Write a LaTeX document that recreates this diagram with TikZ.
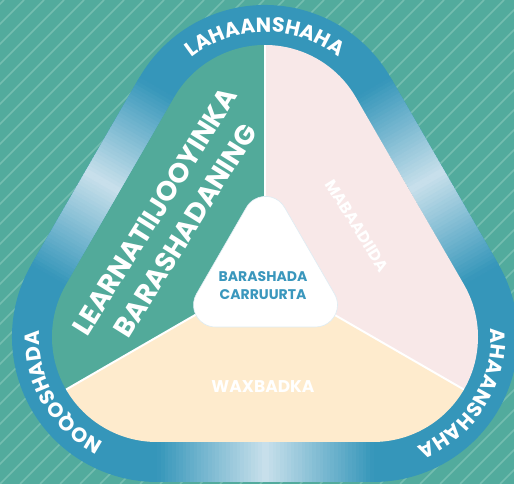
\documentclass[tikz,border=0pt]{standalone}
\usepackage{fontspec}
\setmainfont{Poppins}
\usepackage{tikz}
\usetikzlibrary{calc,decorations.text}
\definecolor{bgteal}{HTML}{52AB9D}
\definecolor{stripeteal}{HTML}{74BDB0}
\definecolor{ringdark}{HTML}{3596BA}
\definecolor{ringpale}{HTML}{C8E0EB}
\definecolor{sectorpink}{HTML}{F8E8E8}
\definecolor{sectorcream}{HTML}{FEEBCD}
\definecolor{sectorteal}{HTML}{52AA9A}
\definecolor{centreblue}{HTML}{3A97BD}
\def\rtri#1[#2](#3,#4,#5:#6){#1[#2] ($(#3)+(30:#6)$) arc (30:150:#6) -- ($(#4)+(150:#6)$) arc (150:270:#6) -- ($(#5)+(270:#6)$) arc (270:390:#6) -- cycle;}
\def\ringfont{\fontsize{20.5}{24}\selectfont\bfseries\color{white}}
\tikzset{
  ringtext/.style={decorate, decoration={text along path, text align=center, text={|\ringfont|#1}}},
  sectortext/.style={text=white, inner sep=0pt},
  divider/.style={white, line width=2pt}
}

\begin{document}
\begin{tikzpicture}[x=1pt,y=1pt]
		%%%%% START %%%%%
		\useasboundingbox (0,0) rectangle (514,484);
		\clip (0,0) rectangle (514,484);
		
		\fill[bgteal] (0,0) rectangle (514,484);
		\foreach \k in {-500,-480,...,520}
			\draw[stripeteal, line width=1.6pt] (\k,0) -- ++(484,484);
		
		\coordinate (A) at (265,334);
		\coordinate (B) at (157,147);
		\coordinate (C) at (373,147);
		\coordinate (G) at (265,209.3);
		
		\rtri\fill[ringdark](A,B,C:145)
		\foreach \p/\q/\n in {B/A/150, A/C/30, C/B/270}
			\foreach \i in {0,...,59} {
				\pgfmathtruncatemacro\m{abs(2*\i+1-60)*100/60}
				\pgfmathsetmacro\ta{\i/60}
				\pgfmathsetmacro\tb{(\i+1)/60}
				\filldraw[ringdark!\m!ringpale, line width=0.9pt] ($(\p)!\ta!(\q)+(\n:105.5)$) -- ($(\p)!\tb!(\q)+(\n:105.5)$) -- ($(\p)!\tb!(\q)+(\n:144.5)$) -- ($(\p)!\ta!(\q)+(\n:144.5)$) -- cycle;
			}
		
		\begin{scope}
			\rtri\clip[](A,B,C:105)
			\fill[sectorteal] (G) -- ($(G)+(90:400)$) -- ($(G)+(150:400)$) -- ($(G)+(210:400)$) -- cycle;
			\fill[sectorpink] (G) -- ($(G)+(90:400)$) -- ($(G)+(30:400)$) -- ($(G)+(-30:400)$) -- cycle;
			\fill[sectorcream] (G) -- ($(G)+(210:400)$) -- ($(G)+(270:400)$) -- ($(G)+(330:400)$) -- cycle;
			\draw[divider] (G) -- ($(G)+(90:400)$);
			\draw[divider] (G) -- ($(G)+(210:400)$);
			\draw[divider] (G) -- ($(G)+(330:400)$);
		\end{scope}
		
		\coordinate (P) at (265.5,265.6);
		\coordinate (Q) at (215.5,179);
		\coordinate (R) at (315.5,179);
		\rtri\filldraw[fill=white, draw=ringpale!60, line width=0.6pt](P,Q,R:22)
		
		\path[ringtext=LAHAANSHAHA] ($(A)+(150:118)$) arc (150:30:118);
		\path[ringtext=AHAANSHAHA] ($(C)+(20:118)$) arc (20:-84:118);
		\path[ringtext=NOQOSHADA] ($(B)+(262:118)$) arc (262:158:118);
		
		\node[sectortext, font=\fontsize{27.5}{36}\selectfont\bfseries, rotate=58, align=center] (outcomes) at (170,263) {LEARNATIIJOOYINKA\\BARASHADANING};
		\node[sectortext, font=\fontsize{16}{19}\selectfont\bfseries, rotate=-58] (principles) at (357,258) {MABAADIIDA};
		\node[sectortext, font=\fontsize{17}{20}\selectfont\bfseries] (practice) at (263,97) {WAXBADKA};
		\node[text=centreblue, font=\fontsize{14}{18}\selectfont\bfseries, align=center] (learning) at (263,198) {BARASHADA\\CARRUURTA};
		
		%%%%% END %%%%%
	\end{tikzpicture}
\end{document}
